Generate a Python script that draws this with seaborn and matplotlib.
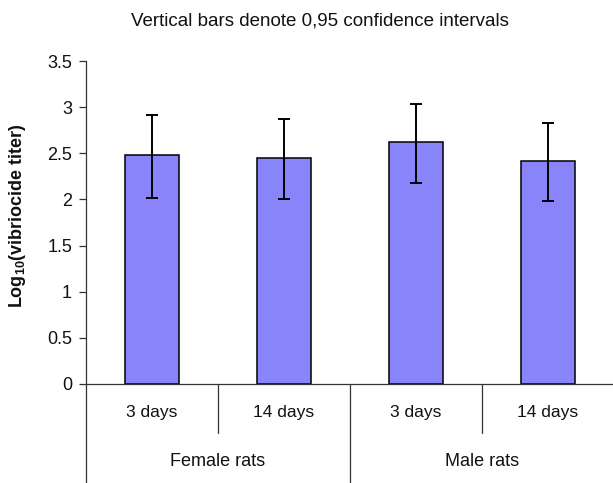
import matplotlib
matplotlib.use("Agg")
import matplotlib.pyplot as plt
import matplotlib.transforms as mtransforms
import seaborn as sns
import pandas as pd
import numpy as np

# ---- data ----
groups = ["Female rats", "Male rats"]
days = ["3 days", "14 days"]
means = [2.48, 2.45, 2.62, 2.42]
ci_low = [2.02, 2.01, 2.18, 1.98]
ci_high = [2.92, 2.87, 3.03, 2.83]
yticks = [0, 0.5, 1, 1.5, 2, 2.5, 3, 3.5]
ytick_labels = ["0", "0.5", "1", "1.5", "2", "2.5", "3", "3.5"]
title = "Vertical bars denote 0,95 confidence intervals"

cats = [f"{g}|{d}" for g in groups for d in days]
df = pd.DataFrame({"cat": cats, "value": means})

sns.set_theme(style="white")
plt.rcParams["font.family"] = ["Liberation Sans", "DejaVu Sans"]
plt.rcParams["mathtext.fontset"] = "custom"
plt.rcParams["mathtext.bf"] = "Liberation Sans:bold"
plt.rcParams["mathtext.rm"] = "Liberation Sans"

fig = plt.figure(figsize=(6.13, 4.83), dpi=100)
ax = fig.add_axes([86 / 613, 1 - 384 / 483, (613 - 86) / 613, 323 / 483])

line_col = "#333333"
text_col = "#111111"
sns.barplot(data=df, x="cat", y="value", order=cats, color="#8a84fb",
            width=0.41, edgecolor="black", linewidth=1.1, saturation=1,
            errorbar=None, ax=ax)

m = np.array(means)
ax.errorbar(np.arange(len(cats)), m,
            yerr=[m - np.array(ci_low), np.array(ci_high) - m],
            fmt="none", ecolor="black", elinewidth=1.4, capsize=4, capthick=1.4,
            zorder=5)

ax.set_ylim(0, 3.5)
ax.set_xlim(-0.5, -0.5 + 527 / 132)
ax.set_yticks(yticks)
ax.set_yticklabels(ytick_labels, fontsize=13, color=text_col)
ax.tick_params(axis="y", direction="out", length=5, width=0.9, color=line_col,
               left=True, pad=5)
ax.set_xticks([])
ax.set_xlabel("")
ax.set_ylabel(r"Log$_{\mathbf{10}}$(vibriocide titer)", fontsize=13,
              fontweight="bold", color=text_col)
ax.yaxis.set_label_coords(-0.11, 0.52)

for s in ["top", "right"]:
    ax.spines[s].set_visible(False)
for s in ["left", "bottom"]:
    ax.spines[s].set_color(line_col)
    ax.spines[s].set_linewidth(0.9)

trans = mtransforms.blended_transform_factory(ax.transData, ax.transAxes)
# category divider lines below the axis
for i in range(len(cats)):
    xpos = i - 0.5
    ybot = -0.31 if i % len(days) == 0 else -0.152
    ax.plot([xpos, xpos], [0, ybot], color=line_col, lw=0.9,
            transform=trans, clip_on=False)

for i, c in enumerate(cats):
    d = c.split("|")[1]
    ax.text(i, -0.089, d, transform=trans, ha="center", va="center",
            fontsize=12.5, color=text_col)
for gi, g in enumerate(groups):
    xc = gi * len(days) + (len(days) - 1) / 2
    ax.text(xc, -0.24, g, transform=trans, ha="center", va="center",
            fontsize=13, color=text_col)

fig.text(320 / 613, 1 - 21 / 483, title, ha="center", va="center",
         fontsize=13.5, color=text_col)

fig.savefig("out.png", dpi=100)
